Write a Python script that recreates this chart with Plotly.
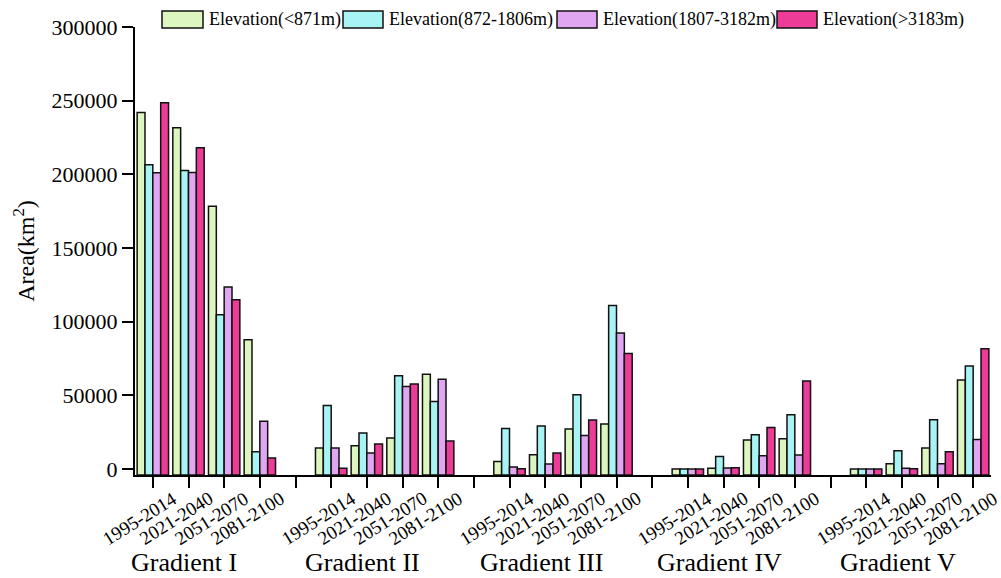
import plotly.graph_objects as go

# ---------------- data ----------------
periods = ["1995-2014", "2021-2040", "2051-2070", "2081-2100"]
gradients = ["Gradient I", "Gradient II", "Gradient III", "Gradient IV", "Gradient V"]
series_names = ["Elevation(<871m)", "Elevation(872-1806m)",
                "Elevation(1807-3182m)", "Elevation(>3183m)"]

# values ordered gradient by gradient, each with 4 periods
elev_lt871 = [242000, 231600, 178400, 87800,
              14300, 15800, 21100, 64300,
              5200, 9700, 27200, 30600,
              0, 500, 19700, 20600,
              0, 3600, 14300, 60500]
elev_872_1806 = [206500, 202600, 104800, 11800,
                 43200, 24500, 63400, 45900,
                 27600, 29200, 50500, 111100,
                 0, 8600, 23300, 36900,
                 0, 12400, 33500, 70000]
elev_1807_3182 = [201100, 201300, 123600, 32400,
                  14300, 10900, 56100, 60900,
                  1500, 3400, 22800, 92400,
                  0, 700, 9000, 9500,
                  0, 500, 3600, 20100]
elev_gt3183 = [248600, 218100, 115000, 7500,
               500, 17000, 57700, 19000,
               300, 10900, 33300, 78500,
               0, 900, 28300, 59800,
               0, 300, 11800, 81700]

y_ticks = [0, 50000, 100000, 150000, 200000, 250000, 300000]

# ---------------- styles ----------------
colors = ["#DDF5BE", "#A8F4F4", "#E0A6F1", "#EC3C98"]
FONT = "Liberation Serif, Times New Roman, serif"
Y_MIN = -4000
Y_MAX = 300000
SLOTS = len(periods) + 1  # one empty slot between gradients

x_pos = [g * SLOTS + p for g in range(len(gradients)) for p in range(len(periods))]
all_series = [elev_lt871, elev_872_1806, elev_1807_3182, elev_gt3183]

fig = go.Figure()
for name, vals, col in zip(series_names, all_series, colors):
    fig.add_trace(go.Bar(
        x=x_pos,
        y=[v - Y_MIN for v in vals],
        base=Y_MIN,
        name=name,
        marker=dict(color=col, line=dict(color="#111111", width=1.5)),
        customdata=vals,
        hovertemplate="%{customdata}<extra>" + name + "</extra>",
        showlegend=False,
    ))

n_slots = len(gradients) * SLOTS - 1
tickvals = list(range(n_slots))

# plot-area geometry in pixels (for legend / label placement)
L, R, T, B = 135, 10, 27, 103
W, H = 1001, 578
PW, PH = W - L - R, H - T - B


def xp(px):
    return (px - L) / PW


def yp(py):
    return (H - B - py) / PH


shapes = []
annotations = []
legend_boxes = [(162, 203), (343, 383), (557, 597), (777, 817)]
for (x0, x1), name, col in zip(legend_boxes, series_names, colors):
    shapes.append(dict(type="rect", xref="paper", yref="paper",
                       x0=xp(x0), x1=xp(x1), y0=yp(28), y1=yp(11),
                       fillcolor=col, line=dict(color="#111111", width=1.5)))
    annotations.append(dict(xref="paper", yref="paper", x=xp(x1 + 4), y=yp(19.5),
                            xanchor="left", yanchor="middle", showarrow=False,
                            text=name, font=dict(family=FONT, size=18, color="black")))

# rotated period labels under each tick
for g in range(len(gradients)):
    for p, per in enumerate(periods):
        annotations.append(dict(xref="x", yref="paper", x=g * SLOTS + p, xshift=-13,
                                y=yp(518), xanchor="center", yanchor="middle",
                                textangle=-32, showarrow=False, text=per, borderpad=0,
                                font=dict(family=FONT, size=19, color="black")))

for g, gname in enumerate(gradients):
    center = g * SLOTS + (len(periods) - 1) / 2
    annotations.append(dict(xref="x", yref="paper", x=center, y=yp(562), xshift=-22,
                            xanchor="center", yanchor="middle", showarrow=False,
                            text=gname, font=dict(family=FONT, size=26, color="black")))

fig.update_layout(
    width=W, height=H,
    margin=dict(l=L, r=R, t=T, b=B),
    paper_bgcolor="white", plot_bgcolor="white",
    barmode="group", bargap=0.12, bargroupgap=0,
    font=dict(family=FONT, color="black"),
    shapes=shapes, annotations=annotations,
    xaxis=dict(range=[-0.5, n_slots - 0.5], tickvals=tickvals,
               showticklabels=False,
               showline=True, linecolor="black", linewidth=2,
               ticks="outside", ticklen=11, tickwidth=2, tickcolor="black",
               showgrid=False, zeroline=False),
    yaxis=dict(range=[Y_MIN, Y_MAX], tickvals=y_ticks,
               ticktext=[str(v) for v in y_ticks],
               tickfont=dict(family=FONT, size=22, color="black"),
               showline=True, linecolor="black", linewidth=2,
               ticks="outside", ticklen=11, tickwidth=2, tickcolor="black",
               showgrid=False, zeroline=False,
               title=dict(text="Area(km<sup>2</sup>)", standoff=10,
                          font=dict(family=FONT, size=24, color="black"))),
)

fig.write_html("out.html")
